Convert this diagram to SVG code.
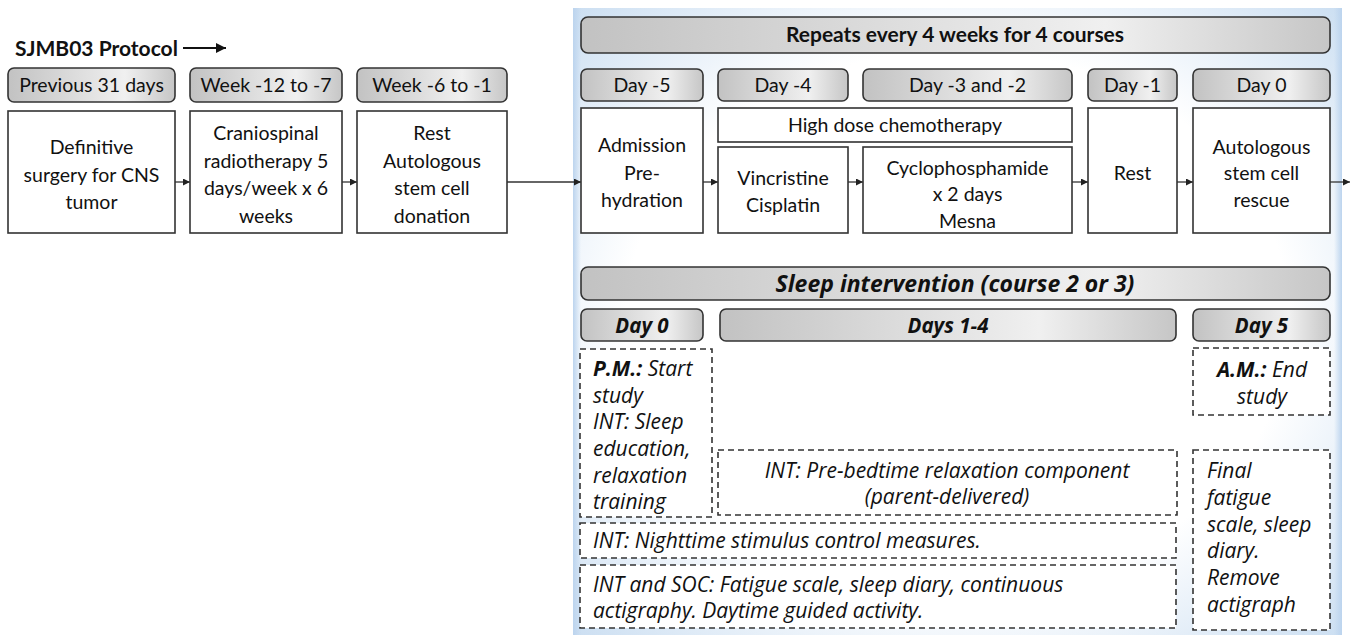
<svg xmlns="http://www.w3.org/2000/svg" width="1354" height="635" viewBox="0 0 1354 635">
<style>
  text { font-family: Lato, "Liberation Sans", sans-serif; font-size: 19.5px; fill: #111; }
  .c { text-anchor: middle; }
  .b { font-weight: bold; }
  .i { font-style: italic; font-family: "Open Sans", Lato, sans-serif; font-size: 21px; }
  .hdr { fill: url(#hg); stroke: #333; stroke-width: 1.6; }
  .box { fill: #fff; stroke: #333; stroke-width: 1.6; }
  .dash { fill: #fff; stroke: #333; stroke-width: 1.6; stroke-dasharray: 6 4; }
  .conn { stroke: #333; stroke-width: 1.3; fill: none; marker-end: url(#ah); }
</style>
<defs>
  <linearGradient id="hg" x1="0" y1="0" x2="1" y2="0">
    <stop offset="0" stop-color="#c2c2c2"/>
    <stop offset="0.7" stop-color="#f0f0f0"/>
    <stop offset="1" stop-color="#c6c6c6"/>
  </linearGradient>
  <radialGradient id="pg" cx="0.5" cy="0.5" r="0.72">
    <stop offset="0.6" stop-color="#ffffff"/>
    <stop offset="1" stop-color="#c9ddf1"/>
  </radialGradient>
  <linearGradient id="edgeL" x1="0" y1="0" x2="1" y2="0">
    <stop offset="0" stop-color="#bcd4ee"/>
    <stop offset="1" stop-color="#bcd4ee" stop-opacity="0"/>
  </linearGradient>
  <linearGradient id="edgeR" x1="1" y1="0" x2="0" y2="0">
    <stop offset="0" stop-color="#bcd4ee"/>
    <stop offset="1" stop-color="#bcd4ee" stop-opacity="0"/>
  </linearGradient>
  <marker id="ah" viewBox="0 0 10 10" refX="10" refY="5" markerWidth="7" markerHeight="7" markerUnits="userSpaceOnUse" orient="auto">
    <path d="M0,0 L10,5 L0,10 z" fill="#222"/>
  </marker>
  <marker id="ah2" viewBox="0 0 10 10" refX="10" refY="5" markerWidth="11" markerHeight="10" markerUnits="userSpaceOnUse" orient="auto">
    <path d="M0,0 L10,5 L0,10 z" fill="#111"/>
  </marker>
</defs>

<rect width="1354" height="635" fill="#fff"/>

<!-- panel -->
<g id="panel">
  <rect x="573" y="8" width="769" height="627" fill="url(#pg)"/>
  <rect x="573" y="8" width="8" height="627" fill="url(#edgeL)"/>
  <rect x="1334" y="8" width="8" height="627" fill="url(#edgeR)"/>
</g>

<!-- title -->
<g id="title">
  <text x="15" y="56" class="b" style="font-size:21px">SJMB03 Protocol</text>
  <line x1="183" y1="48" x2="226" y2="48" stroke="#111" stroke-width="2" marker-end="url(#ah2)"/>
</g>

<!-- connectors -->
<g id="connectors">
  <line class="conn" x1="175" y1="182" x2="190" y2="182"/>
  <line class="conn" x1="342" y1="182" x2="357" y2="182"/>
  <line class="conn" x1="507" y1="182" x2="581" y2="182"/>
  <line class="conn" x1="703" y1="182" x2="718" y2="182"/>
  <line class="conn" x1="848" y1="182" x2="863" y2="182"/>
  <line class="conn" x1="1072" y1="182" x2="1088" y2="182"/>
  <line class="conn" x1="1177" y1="182" x2="1193" y2="182"/>
  <line class="conn" x1="1330" y1="182" x2="1350" y2="182"/>
</g>

<!-- pre-protocol -->
<g id="h-prev31"><rect class="hdr" x="8" y="68" width="167" height="34" rx="6"/><text class="c" x="91.5" y="92">Previous 31 days</text></g>
<g id="h-week12"><rect class="hdr" x="190" y="68" width="152" height="34" rx="6"/><text class="c" x="266" y="92">Week -12 to -7</text></g>
<g id="h-week6"><rect class="hdr" x="357" y="68" width="150" height="34" rx="6"/><text class="c" x="432" y="92">Week -6 to -1</text></g>

<g id="n-surgery"><rect class="box" x="8" y="111" width="167" height="122"/>
  <text class="c" x="91.5" y="154">Definitive</text>
  <text class="c" x="91.5" y="182">surgery for CNS</text>
  <text class="c" x="91.5" y="209">tumor</text></g>
<g id="n-radio"><rect class="box" x="190" y="111" width="152" height="122"/>
  <text class="c" x="266" y="140">Craniospinal</text>
  <text class="c" x="266" y="167.5">radiotherapy 5</text>
  <text class="c" x="266" y="195">days/week x 6</text>
  <text class="c" x="266" y="222.5">weeks</text></g>
<g id="n-rest1"><rect class="box" x="357" y="111" width="150" height="122"/>
  <text class="c" x="432" y="140">Rest</text>
  <text class="c" x="432" y="167.5">Autologous</text>
  <text class="c" x="432" y="195">stem cell</text>
  <text class="c" x="432" y="222.5">donation</text></g>

<!-- course -->
<g id="h-repeats"><rect class="hdr" x="581" y="17" width="749" height="36" rx="7"/><text class="c b" x="955" y="42" style="font-size:21px">Repeats every 4 weeks for 4 courses</text></g>
<g id="h-day-5"><rect class="hdr" x="581" y="69" width="122" height="32" rx="6"/><text class="c" x="642" y="92">Day -5</text></g>
<g id="h-day-4"><rect class="hdr" x="718" y="69" width="130" height="32" rx="6"/><text class="c" x="783" y="92">Day -4</text></g>
<g id="h-day-3"><rect class="hdr" x="863" y="69" width="209" height="32" rx="6"/><text class="c" x="967.5" y="92">Day -3 and -2</text></g>
<g id="h-day-1"><rect class="hdr" x="1088" y="69" width="89" height="32" rx="6"/><text class="c" x="1132.5" y="92">Day -1</text></g>
<g id="h-day0"><rect class="hdr" x="1193" y="69" width="137" height="32" rx="6"/><text class="c" x="1261.5" y="92">Day 0</text></g>

<g id="n-admission"><rect class="box" x="581" y="108" width="122" height="125"/>
  <text class="c" x="642" y="152">Admission</text>
  <text class="c" x="642" y="180">Pre-</text>
  <text class="c" x="642" y="207">hydration</text></g>
<g id="n-highdose"><rect class="box" x="718" y="108" width="354" height="34"/>
  <text class="c" x="895" y="132">High dose chemotherapy</text></g>
<g id="n-vincristine"><rect class="box" x="718" y="147" width="130" height="86"/>
  <text class="c" x="783" y="185">Vincristine</text>
  <text class="c" x="783" y="212">Cisplatin</text></g>
<g id="n-cyclo"><rect class="box" x="863" y="147" width="209" height="86"/>
  <text class="c" x="967.5" y="175">Cyclophosphamide</text>
  <text class="c" x="967.5" y="201">x 2 days</text>
  <text class="c" x="967.5" y="228">Mesna</text></g>
<g id="n-rest2"><rect class="box" x="1088" y="108" width="89" height="125"/>
  <text class="c" x="1132.5" y="180">Rest</text></g>
<g id="n-rescue"><rect class="box" x="1193" y="108" width="137" height="125"/>
  <text class="c" x="1261.5" y="154">Autologous</text>
  <text class="c" x="1261.5" y="180">stem cell</text>
  <text class="c" x="1261.5" y="207">rescue</text></g>

<!-- sleep intervention -->
<g id="h-sleep"><rect class="hdr" x="581" y="267" width="749" height="33" rx="7"/><text class="c b i" x="955" y="292" style="font-size:23px">Sleep intervention (course 2 or 3)</text></g>
<g id="h-sday0"><rect class="hdr" x="581" y="309" width="122" height="32" rx="6"/><text class="c b i" x="642" y="333" style="font-size:20.5px">Day 0</text></g>
<g id="h-days14"><rect class="hdr" x="720" y="309" width="456" height="32" rx="6"/><text class="c b i" x="948" y="333" style="font-size:20.5px">Days 1-4</text></g>
<g id="h-day5"><rect class="hdr" x="1193" y="309" width="137" height="32" rx="6"/><text class="c b i" x="1261.5" y="333" style="font-size:20.5px">Day 5</text></g>

<g id="n-pm"><rect class="dash" x="580" y="349" width="132" height="168"/>
  <text class="i" x="593" y="376"><tspan class="b">P.M.:</tspan> Start</text>
  <text class="i" x="593" y="403">study</text>
  <text class="i" x="593" y="429">INT: Sleep</text>
  <text class="i" x="593" y="456">education,</text>
  <text class="i" x="593" y="483">relaxation</text>
  <text class="i" x="593" y="509">training</text></g>
<g id="n-am"><rect class="dash" x="1193" y="348" width="137" height="67"/>
  <text class="i c" x="1262" y="377"><tspan class="b">A.M.:</tspan> End</text>
  <text class="i c" x="1262" y="404">study</text></g>
<g id="n-prebed"><rect class="dash" x="718" y="450" width="459" height="65"/>
  <text class="i c" x="947" y="478">INT: Pre-bedtime relaxation component</text>
  <text class="i c" x="947" y="504">(parent-delivered)</text></g>
<g id="n-night"><rect class="dash" x="580" y="523" width="596" height="35"/>
  <text class="i" x="593" y="548">INT: Nighttime stimulus control measures.</text></g>
<g id="n-soc"><rect class="dash" x="580" y="565" width="596" height="63"/>
  <text class="i" x="593" y="592">INT and SOC: Fatigue scale, sleep diary, continuous</text>
  <text class="i" x="593" y="618">actigraphy. Daytime guided activity.</text></g>
<g id="n-final"><rect class="dash" x="1193" y="450" width="137" height="180"/>
  <text class="i" x="1207" y="478">Final</text>
  <text class="i" x="1207" y="505">fatigue</text>
  <text class="i" x="1207" y="532">scale, sleep</text>
  <text class="i" x="1207" y="558">diary.</text>
  <text class="i" x="1207" y="585">Remove</text>
  <text class="i" x="1207" y="612">actigraph</text></g>
</svg>
